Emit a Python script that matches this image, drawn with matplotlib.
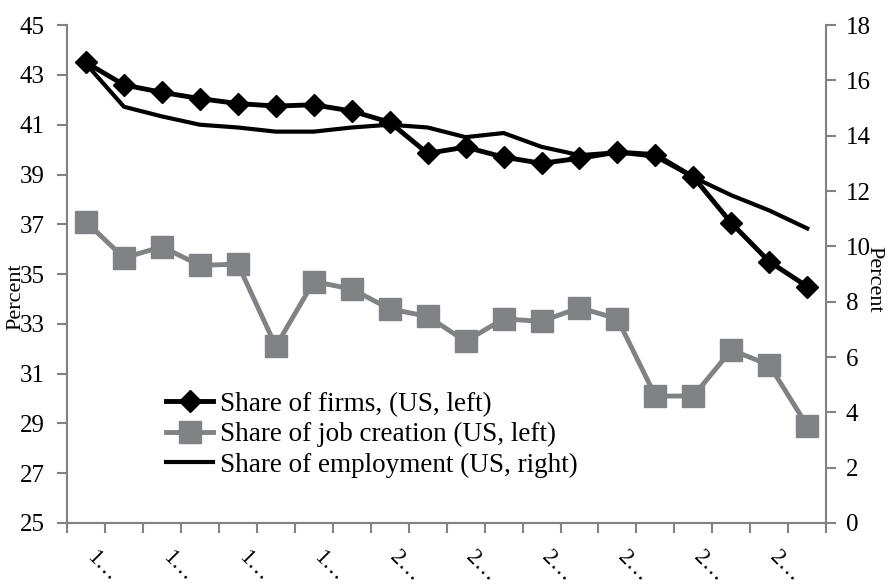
import numpy as np
import matplotlib.pyplot as plt

plt.rcParams['font.family'] = ['Liberation Serif', 'DejaVu Serif']

# years 1992-2011, shown as truncated labels on every other category
years = list(range(1992, 2012))
tick_labels = ['1\u2026', '1\u2026', '1\u2026', '1\u2026', '2\u2026', '2\u2026',
               '2\u2026', '2\u2026', '2\u2026', '2\u2026']

share_firms = [43.5, 42.6, 42.3, 42.05, 41.85, 41.75, 41.8, 41.55, 41.1, 39.85,
               40.1, 39.7, 39.45, 39.65, 39.9, 39.8, 38.9, 37.05, 35.5, 34.5]
share_jobs = [37.1, 35.65, 36.1, 35.35, 35.4, 32.1, 34.7, 34.4, 33.6, 33.3,
              32.3, 33.2, 33.1, 33.65, 33.2, 30.1, 30.1, 31.95, 31.35, 28.9]
share_emp = [16.6, 15.05, 14.7, 14.4, 14.3, 14.15, 14.15, 14.3, 14.4, 14.3,
             13.95, 14.1, 13.6, 13.3, 13.4, 13.25, 12.5, 11.85, 11.3, 10.65]

grey = '#808285'
x = np.arange(len(years))

fig = plt.figure(figsize=(8.89, 5.85), dpi=100)
ax = fig.add_axes([0.0754, 0.106, 0.854, 0.851])
ax2 = ax.twinx()

l1, = ax.plot(x, share_firms, color='black', lw=3.5, marker='D', ms=11,
              label='Share of firms, (US, left)')
l2, = ax.plot(x, share_jobs, color=grey, lw=3.5, marker='s', ms=16,
              label='Share of job creation (US, left)')
l3, = ax2.plot(x, share_emp, color='black', lw=3,
               label='Share of employment (US, right)')

ax.set_xlim(-0.5, len(years) - 0.5)
ax.set_ylim(25, 45)
ax.set_yticks(np.arange(25, 46, 2))
ax2.set_ylim(0, 18)
ax2.set_yticks(np.arange(0, 19, 2))

# category axis: ticks at the boundaries, labels every other category
ax.set_xticks(np.arange(-0.5, len(years), 1.0))
ax.set_xticklabels([])
ax.set_xticks(x[::2] - 0.1, labels=tick_labels, minor=True, rotation=-45,
              ha='left', va='top')
ax.tick_params(axis='x', which='minor', length=0, pad=17, labelsize=16.5)

for a in (ax, ax2):
    a.spines['top'].set_visible(False)
    for side in ('left', 'right', 'bottom'):
        a.spines[side].set_color(grey)
        a.spines[side].set_linewidth(1.5)
    a.tick_params(axis='both', which='major', color=grey, width=1.5,
                  length=7, labelsize=18)
ax2.spines['left'].set_visible(False)
ax.spines['right'].set_visible(False)
ax.tick_params(axis='y', pad=9)
ax2.tick_params(axis='y', pad=7)

ax.set_ylabel('Percent', fontsize=16)
ax.yaxis.set_label_coords(-0.055, 0.454)
ax2.set_ylabel('Percent', fontsize=16, rotation=-90, va='bottom')
ax2.yaxis.set_label_coords(1.05, 0.49)

ax.legend(handles=[l1, l2, l3], loc='lower left', bbox_to_anchor=(0.116, 0.069),
          frameon=False, fontsize=19.5, handlelength=1.75, labelspacing=0.2,
          handletextpad=0.25, borderaxespad=0)

fig.savefig('out.png', dpi=100)
